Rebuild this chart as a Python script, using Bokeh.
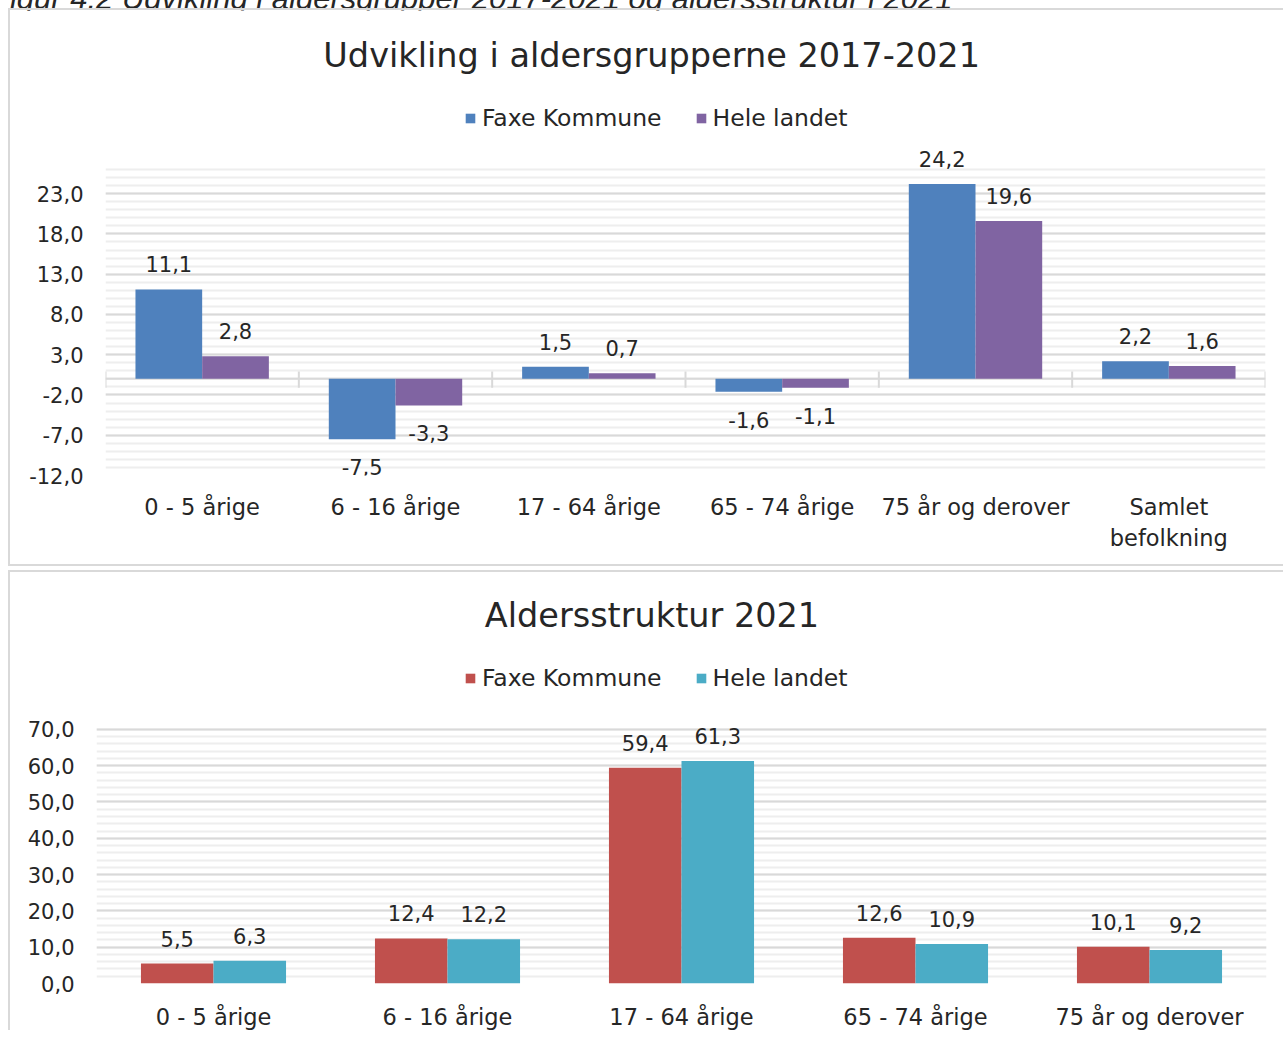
from bokeh.plotting import figure
from bokeh.models import (FactorRange, Range1d, FixedTicker, Legend, LegendItem,
                          ColumnDataSource, Div)
from bokeh.layouts import column
from bokeh.transform import dodge
from bokeh.core.properties import value
from bokeh.embed import file_html
from bokeh.resources import INLINE

caption = "Figur 4.2 Udvikling i aldersgrupper 2017-2021 og aldersstruktur i 2021"
series_names = ["Faxe Kommune", "Hele landet"]

title1 = "Udvikling  i aldersgrupperne 2017-2021"
cats1 = ["0 - 5 årige", "6 - 16 årige", "17 - 64 årige", "65 - 74 årige",
         "75 år og derover", "Samlet\nbefolkning"]
faxe1 = [11.1, -7.5, 1.5, -1.6, 24.2, 2.2]
land1 = [2.8, -3.3, 0.7, -1.1, 19.6, 1.6]
yticks1 = [-12, -7, -2, 3, 8, 13, 18, 23]
yminor1 = list(range(-12, 27))

title2 = "Aldersstruktur 2021"
cats2 = ["0 - 5 årige", "6 - 16 årige", "17 - 64 årige", "65 - 74 årige", "75 år og derover"]
faxe2 = [5.5, 12.4, 59.4, 12.6, 10.1]
land2 = [6.3, 12.2, 61.3, 10.9, 9.2]
yticks2 = [0, 10, 20, 30, 40, 50, 60, 70]
yminor2 = list(range(0, 71, 2))

FONT = "DejaVu Sans"
TXT = "#262626"


def fmt(v):
    return f"{v:.1f}".replace(".", ",")


def make_chart(title, cats, s1, s2, colors, yticks, yminor, ylo, yhi, height,
               borders, grid_px, title_px, title_dx, legend_px, legend_x, cat_standoff,
               bar_w, zero_axis, styles):
    """grid_px: pixel height of the gridded area (ylo..yhi); title_px / legend_px:
    distance of title / legend centre from the canvas top."""
    bl, br, bb = borders
    frame_h = height - bb
    ppu = grid_px / (yhi - ylo)
    ytop = ylo + frame_h / ppu
    p = figure(x_range=FactorRange(*cats), y_range=Range1d(ylo, ytop),
               width=1275, height=height, output_backend="svg", toolbar_location=None,
               min_border_left=bl, min_border_right=br, min_border_top=0,
               min_border_bottom=bb, outline_line_color=None, styles=styles)
    src = ColumnDataSource(dict(
        cat=cats, a=s1, b=s2,
        la=[fmt(v) for v in s1], lb=[fmt(v) for v in s2],
        oa=[-25 if v >= 0 else 28 for v in s1],
        ob=[-25 if v >= 0 else 28 for v in s2],
    ))
    p.xgrid.grid_line_color = None
    p.ygrid.grid_line_color = "#d9d9d9"
    p.ygrid.grid_line_width = 2
    p.ygrid.minor_grid_line_color = "#eeeeee"
    p.ygrid.minor_grid_line_width = 2
    p.yaxis.ticker = FixedTicker(ticks=yticks, minor_ticks=yminor)
    p.yaxis.major_label_overrides = {t: fmt(t) for t in yticks}
    p.yaxis.axis_line_color = None
    p.yaxis.major_tick_line_color = None
    p.yaxis.minor_tick_line_color = None
    p.yaxis.major_tick_out = 0
    p.yaxis.minor_tick_out = 0
    p.yaxis.major_label_text_font = FONT
    p.yaxis.major_label_text_font_size = "21px"
    p.yaxis.major_label_text_color = TXT
    p.yaxis.major_label_standoff = 22
    p.xaxis.axis_line_color = None
    p.xaxis.major_tick_line_color = None
    p.xaxis.major_tick_out = 0
    p.xaxis.major_label_text_font = FONT
    p.xaxis.major_label_text_font_size = "22.5px"
    p.xaxis.major_label_text_color = TXT
    p.xaxis.major_label_standoff = cat_standoff

    n = len(cats)
    if zero_axis:
        p.segment(x0=[0], x1=[n], y0=[0], y1=[0], line_color="#d9d9d9", line_width=2)
        bx = list(range(n + 1))
        p.segment(x0=bx, x1=bx, y0=[0.9] * (n + 1), y1=[-1.1] * (n + 1),
                  line_color="#d9d9d9", line_width=2)

    ra = p.vbar(x=dodge("cat", -bar_w / 2, range=p.x_range), top="a", bottom=0,
                width=bar_w, source=src, color=colors[0], line_color=None)
    rb = p.vbar(x=dodge("cat", bar_w / 2, range=p.x_range), top="b", bottom=0,
                width=bar_w, source=src, color=colors[1], line_color=None)
    for key, lab, off, dx in (("a", "la", "oa", -bar_w / 2), ("b", "lb", "ob", bar_w / 2)):
        p.text(x=dodge("cat", dx, range=p.x_range), y=key, text=lab, y_offset=off,
               source=src, text_align="center", text_baseline="middle",
               text_font=value(FONT), text_font_size="21px", text_color=TXT)

    # chart title, centred on the whole chart area above the grid
    frame_w = 1275 - bl - br
    p.text(x=[n / 2], y=[ytop - title_px / ppu], text=[title], text_align="center",
           text_baseline="middle", text_font=value(FONT), text_font_size="33.5px",
           text_color=TXT, x_offset=(1275 / 2) - (bl + frame_w / 2) + title_dx)

    legend = Legend(items=[LegendItem(label=series_names[0], renderers=[ra]),
                           LegendItem(label=series_names[1], renderers=[rb])],
                    orientation="horizontal",
                    location=(legend_x - bl, frame_h - legend_px - 11),
                    glyph_width=12, glyph_height=12, label_standoff=6, spacing=33,
                    label_text_font=FONT, label_text_font_size="23.5px",
                    label_text_color=TXT, border_line_color=None,
                    background_fill_alpha=0, padding=0, margin=0)
    p.add_layout(legend, "center")
    return p


border = "2px solid #d9d9d9"
p1 = make_chart(title1, cats1, faxe1, land1, ["#4f81bd", "#8064a2"], yticks1, yminor1,
                -12, 26, 558, (95, 20, 93), 306, 45, 9, 111, 454, 18, 0.345, True,
                {"border-left": border, "border-top": border, "border-bottom": border})
p2 = make_chart(title2, cats2, faxe2, land2, ["#c0504d", "#4bacc6"], yticks2, yminor2,
                0, 70, 460, (86, 19, 46), 256, 43, 4, 112, 454, 20, 0.31, False,
                {"border-left": border, "border-top": border, "margin-top": "4px"})

cap = Div(text=caption, width=1000, height=30,
          styles={"position": "absolute", "top": "-36px", "left": "-22px",
                  "font-family": "Liberation Sans", "font-style": "italic",
                  "font-size": "31px", "color": TXT, "white-space": "nowrap"})

layout = column(cap, column(p1), column(p2),
                styles={"margin-left": "8px", "margin-top": "8px"})
open("out.html", "w").write(file_html(layout, INLINE))
